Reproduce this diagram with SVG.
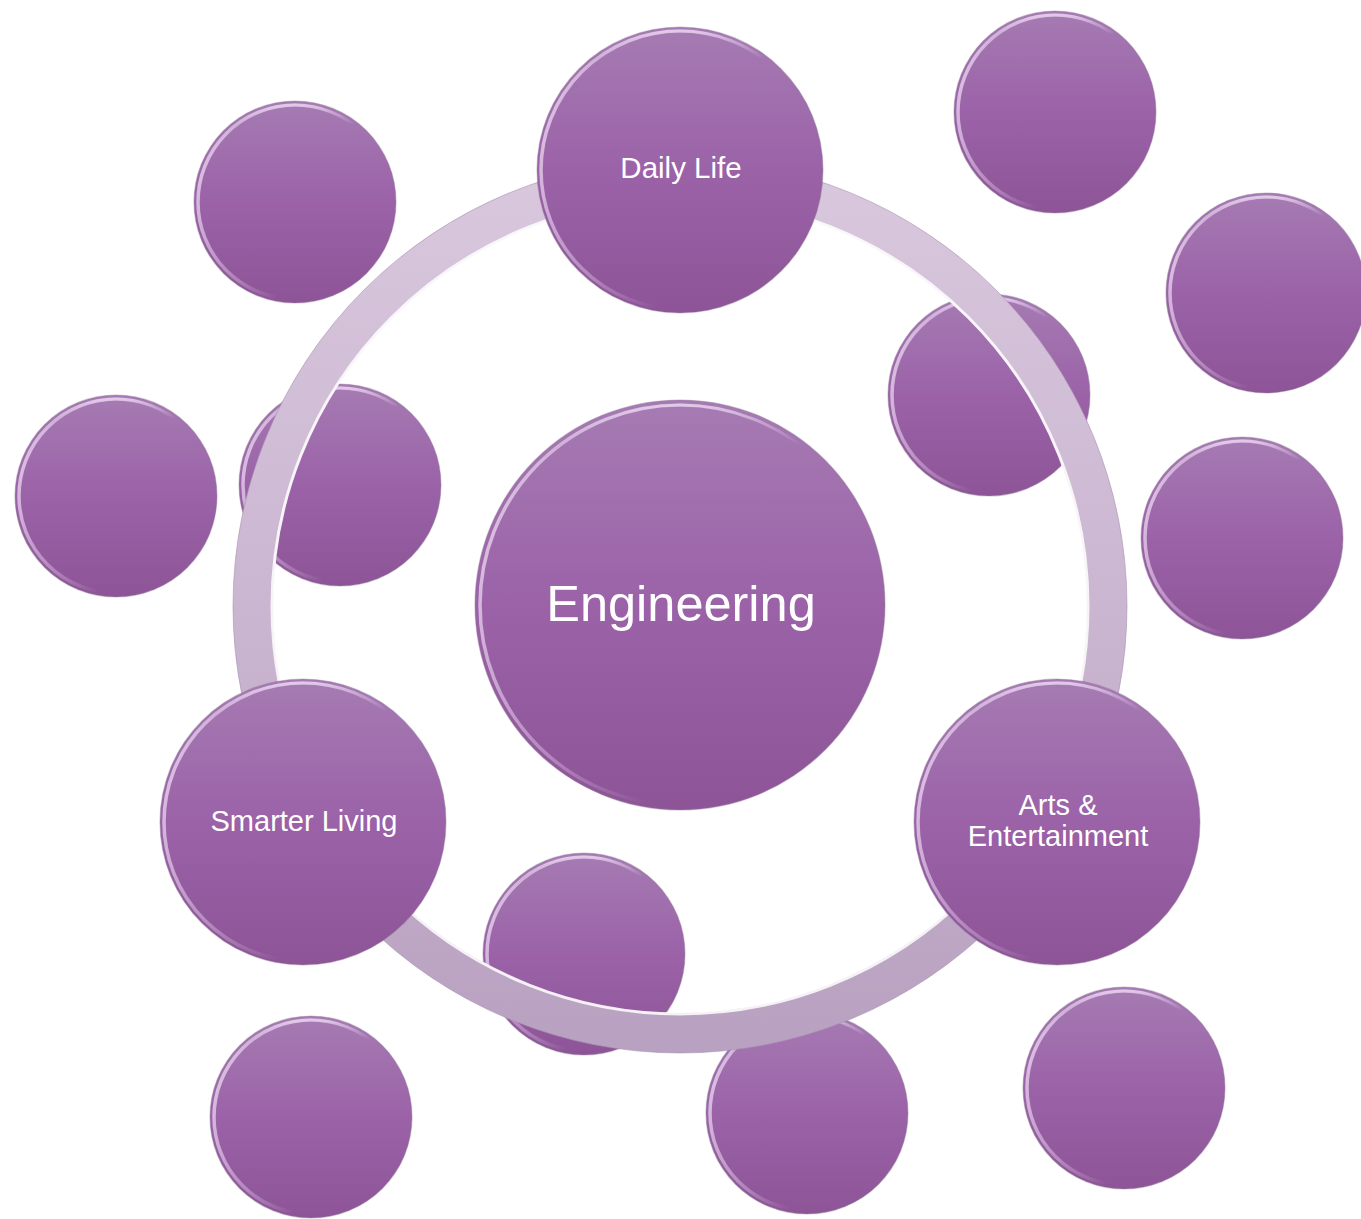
<svg xmlns="http://www.w3.org/2000/svg" width="1361" height="1219" viewBox="0 0 1361 1219">
<defs>
<linearGradient id="fillG" x1="0" y1="0" x2="0" y2="1">
<stop offset="0" stop-color="#a67bb3"/>
<stop offset="0.5" stop-color="#9b62a8"/>
<stop offset="1" stop-color="#8d5597"/>
</linearGradient>
<linearGradient id="rimG" x1="0" y1="0" x2="1" y2="0.3">
<stop offset="0" stop-color="#f3e2f7" stop-opacity="0.85"/>
<stop offset="0.4" stop-color="#e6cdee" stop-opacity="0.4"/>
<stop offset="0.65" stop-color="#e6cdee" stop-opacity="0"/>
</linearGradient>
<linearGradient id="topG" x1="0" y1="0" x2="0" y2="1">
<stop offset="0" stop-color="#ecd6f2" stop-opacity="0.8"/>
<stop offset="0.1" stop-color="#ecd6f2" stop-opacity="0"/>
</linearGradient>
<linearGradient id="ringG" x1="0" y1="0" x2="0" y2="1">
<stop offset="0" stop-color="#d8c7dd"/>
<stop offset="0.5" stop-color="#cbb6d1"/>
<stop offset="1" stop-color="#b9a2c1"/>
</linearGradient>
</defs>
<style>
.base{fill:url(#fillG);stroke:#8f7796;stroke-opacity:0.4;stroke-width:1.2}
.rim{fill:none;stroke:url(#rimG);stroke-width:3.5}
.top{fill:none;stroke:url(#topG);stroke-width:3}
.lbl{font-family:"Liberation Sans",Arial,sans-serif;fill:#ffffff;text-anchor:middle}
</style>
<rect width="1361" height="1219" fill="#ffffff"/>

<g id="small-nodes">
<g id="s1"><circle class="base" cx="295" cy="202" r="101"/><circle class="rim" cx="295" cy="202" r="97"/><circle class="top" cx="295" cy="202" r="97"/></g>
<g id="s2"><circle class="base" cx="1055" cy="112" r="101"/><circle class="rim" cx="1055" cy="112" r="97"/><circle class="top" cx="1055" cy="112" r="97"/></g>
<g id="s3"><circle class="base" cx="1266" cy="293" r="100"/><circle class="rim" cx="1266" cy="293" r="96"/><circle class="top" cx="1266" cy="293" r="96"/></g>
<g id="s4"><circle class="base" cx="989" cy="395" r="101"/><circle class="rim" cx="989" cy="395" r="97"/><circle class="top" cx="989" cy="395" r="97"/></g>
<g id="s5"><circle class="base" cx="1242" cy="538" r="101"/><circle class="rim" cx="1242" cy="538" r="97"/><circle class="top" cx="1242" cy="538" r="97"/></g>
<g id="s6"><circle class="base" cx="116" cy="496" r="101"/><circle class="rim" cx="116" cy="496" r="97"/><circle class="top" cx="116" cy="496" r="97"/></g>
<g id="s7"><circle class="base" cx="340" cy="485" r="101"/><circle class="rim" cx="340" cy="485" r="97"/><circle class="top" cx="340" cy="485" r="97"/></g>
<g id="s8"><circle class="base" cx="584" cy="954" r="101"/><circle class="rim" cx="584" cy="954" r="97"/><circle class="top" cx="584" cy="954" r="97"/></g>
<g id="s9"><circle class="base" cx="311" cy="1117" r="101"/><circle class="rim" cx="311" cy="1117" r="97"/><circle class="top" cx="311" cy="1117" r="97"/></g>
<g id="s10"><circle class="base" cx="807" cy="1113" r="101"/><circle class="rim" cx="807" cy="1113" r="97"/><circle class="top" cx="807" cy="1113" r="97"/></g>
<g id="s11"><circle class="base" cx="1124" cy="1088" r="101"/><circle class="rim" cx="1124" cy="1088" r="97"/><circle class="top" cx="1124" cy="1088" r="97"/></g>
</g>

<g id="connectors">
<circle cx="680" cy="606" r="427" fill="none" stroke="url(#ringG)" stroke-width="40"/>
<circle cx="680" cy="606" r="408" fill="none" stroke="#ffffff" stroke-opacity="0.85" stroke-width="3"/>
<circle cx="680" cy="606" r="447" fill="none" stroke="#a993b0" stroke-opacity="0.6" stroke-width="1"/>
</g>

<g id="center">
<circle class="base" cx="680" cy="605" r="205"/><circle class="rim" cx="680" cy="605" r="200"/><circle class="top" cx="680" cy="605" r="200"/>
<text class="lbl" x="681" y="621" font-size="50.5">Engineering</text>
</g>
<g id="daily-life">
<circle class="base" cx="680" cy="170" r="143"/><circle class="rim" cx="680" cy="170" r="139"/><circle class="top" cx="680" cy="170" r="139"/>
<text class="lbl" x="681" y="178" font-size="29.5">Daily Life</text>
</g>
<g id="smarter-living">
<circle class="base" cx="303" cy="822" r="143"/><circle class="rim" cx="303" cy="822" r="139"/><circle class="top" cx="303" cy="822" r="139"/>
<text class="lbl" x="304" y="831" font-size="29">Smarter Living</text>
</g>
<g id="arts">
<circle class="base" cx="1057" cy="822" r="143"/><circle class="rim" cx="1057" cy="822" r="139"/><circle class="top" cx="1057" cy="822" r="139"/>
<text class="lbl" x="1058" y="815" font-size="29">Arts &amp;</text>
<text class="lbl" x="1058" y="846" font-size="29">Entertainment</text>
</g>
</svg>
